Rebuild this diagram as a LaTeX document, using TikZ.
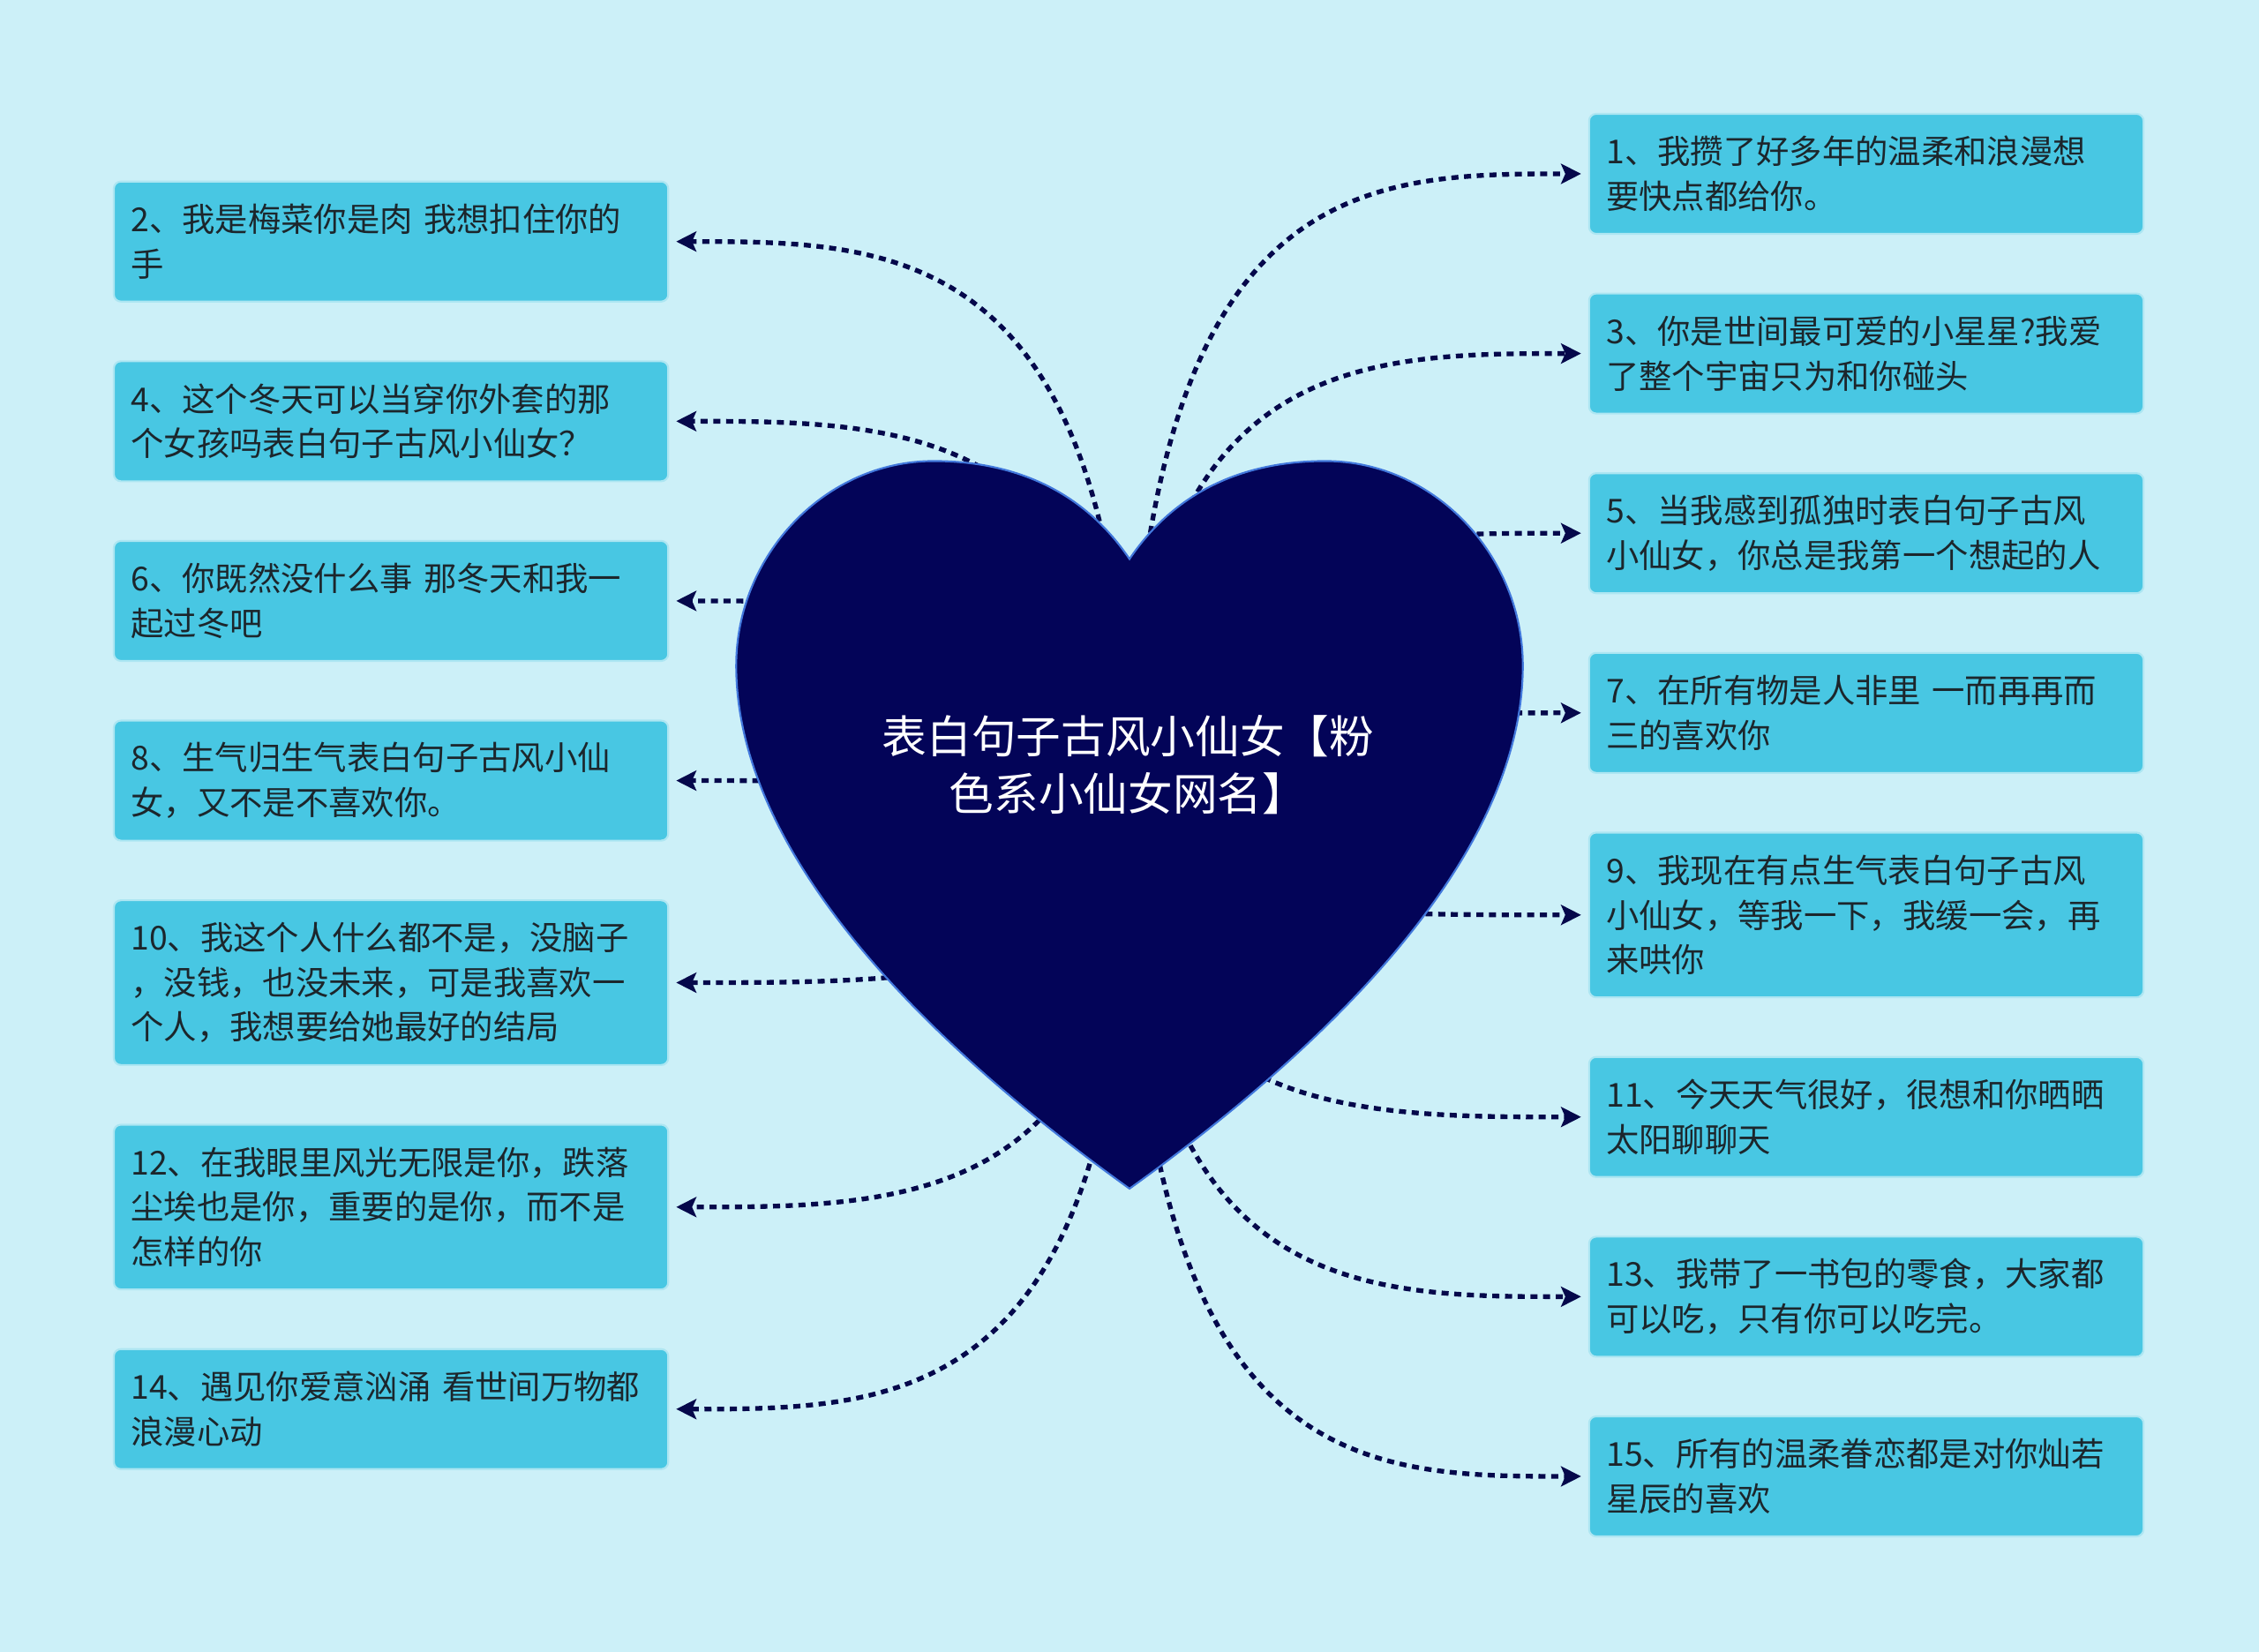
\documentclass[tikz,border=0pt]{standalone}
\usepackage{fontspec}
\newfontfamily\cjk{Noto Sans CJK SC}
\usetikzlibrary{arrows.meta, backgrounds, calc, positioning}
\definecolor{bgcol}{RGB}{204, 240, 248}
\definecolor{boxcol}{RGB}{72, 199, 227}
\definecolor{textcol}{RGB}{28, 38, 44}
\definecolor{heartcol}{RGB}{3, 4, 88}
\definecolor{heartline}{RGB}{66, 120, 220}
\definecolor{linkcol}{RGB}{5, 8, 75}
\tikzset{
  item/.style  = {draw=white!55!boxcol, line width=0.8pt, fill=boxcol,
                  rounded corners=3pt, text=textcol, align=left,
                  font=\cjk\fontsize{14}{19}\selectfont, text width=221pt,
                  inner xsep=7.3pt, inner ysep=3pt, minimum height=51pt,
                  outer sep=0pt},
  tall/.style  = {item, minimum height=70pt},
  root/.style  = {text=white, align=center,
                  font=\cjk\fontsize{19}{24.5}\selectfont},
  heart/.style = {fill=heartcol, draw=heartline, line width=0.8pt},
  % dashed spokes, the tip stays solid
  link/.style  = {draw=linkcol, line width=2pt,
                  dash pattern=on 3pt off 2.4pt, shorten >=3.4pt,
                  -{Stealth[length=8.5pt, width=8.5pt, inset=1.8pt]}},
}

\begin{document}
\begin{tikzpicture}[x=0.6122pt, y=-0.6122pt, node distance=25.35pt]

  %% ================ the heart ================
  \coordinate (hub) at (784,572);
  \node[root] (root) at (783,531) {表白句子古风小仙女【粉\\色系小仙女网名】};

  %% ================ left column ================
  \node[item, anchor=north west] (b2) at (79,126)
       {2、我是梅菜你是肉 我想扣住你的\\手};
  \node[item, below=of b2] (b4)
       {4、这个冬天可以当穿你外套的那\\个女孩吗表白句子古风小仙女？};
  \node[item, below=of b4] (b6)
       {6、你既然没什么事 那冬天和我一\\起过冬吧};
  \node[item, below=of b6] (b8)
       {8、生气归生气表白句子古风小仙\\女，又不是不喜欢你。};
  \node[tall, below=of b8] (b10)
       {10、我这个人什么都不是，没脑子\\，没钱，也没未来，可是我喜欢一\\个人，我想要给她最好的结局};
  \node[tall, below=of b10] (b12)
       {12、在我眼里风光无限是你，跌落\\尘埃也是你，重要的是你，而不是\\怎样的你};
  \node[item, below=of b12] (b14)
       {14、遇见你爱意汹涌 看世间万物都\\浪漫心动};

  %% ================ right column ================
  \node[item, anchor=north west] (b1) at (1103,79)
       {1、我攒了好多年的温柔和浪漫想\\要快点都给你。};
  \node[item, below=of b1] (b3)
       {3、你是世间最可爱的小星星?我爱\\了整个宇宙只为和你碰头};
  \node[item, below=of b3] (b5)
       {5、当我感到孤独时表白句子古风\\小仙女，你总是我第一个想起的人};
  \node[item, below=of b5] (b7)
       {7、在所有物是人非里 一而再再而\\三的喜欢你};
  \node[tall, below=of b7] (b9)
       {9、我现在有点生气表白句子古风\\小仙女，等我一下，我缓一会，再\\来哄你};
  \node[item, below=of b9] (b11)
       {11、今天天气很好，很想和你晒晒\\太阳聊聊天};
  \node[item, below=of b11] (b13)
       {13、我带了一书包的零食，大家都\\可以吃，只有你可以吃完。};
  \node[item, below=of b13] (b15)
       {15、所有的温柔眷恋都是对你灿若\\星辰的喜欢};

  \begin{pgfonlayer}{background}
    \fill[bgcol] (0,0) rectangle (1568,1146.6);
    \foreach \b in {b2,b4,b6,b8,b10,b12,b14}
      \draw[link] (hub) .. controls (hub |- \b.east)
            and ($(hub |- \b.east)!.5!(\b.east)$) .. (\b.east);
    \foreach \b in {b1,b3,b5,b7,b9,b11,b13,b15}
      \draw[link] (hub) .. controls (hub |- \b.west)
            and ($(hub |- \b.west)!.5!(\b.west)$) .. (\b.west);
    % heart drawn over the spokes
    \draw[heart] (784,388) .. controls (755,345) and (710,320) .. (648,320)
      .. controls (573,320) and (511,385) .. (511,462)
      .. controls (511,575) and (610,700) .. (784,825)
      .. controls (958,700) and (1057,575) .. (1057,462)
      .. controls (1057,385) and (995,320) .. (920,320)
      .. controls (858,320) and (813,345) .. (784,388) -- cycle;
  \end{pgfonlayer}

\end{tikzpicture}
\end{document}
